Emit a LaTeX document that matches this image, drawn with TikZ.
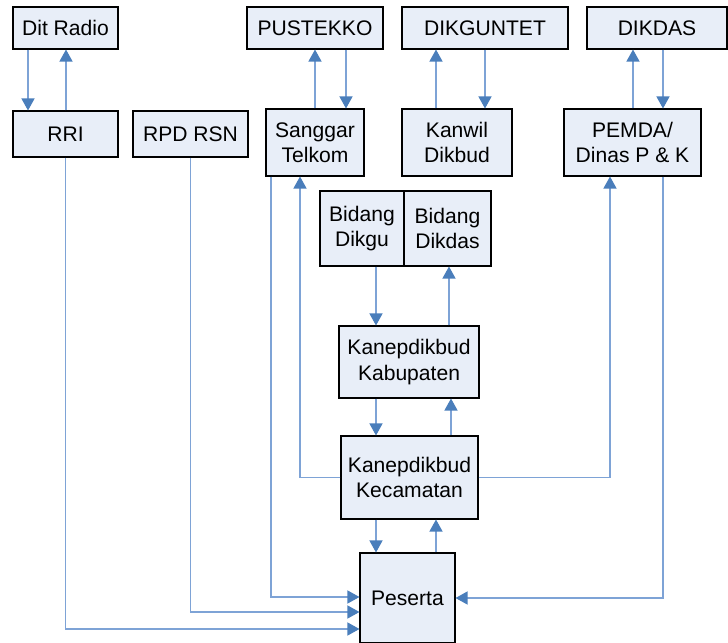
\documentclass[tikz,border=0pt]{standalone}
\usepackage{fontspec}
\setmainfont{Liberation Sans}
\usepackage{xcolor}
\usepackage{tikz}
\usetikzlibrary{positioning, arrows.meta, calc}

\definecolor{boxfill}{HTML}{E8EEF8}
\definecolor{linkblue}{HTML}{7EA3D6}
\definecolor{tipblue}{HTML}{4A7EBB}

\begin{document}
\begin{tikzpicture}[
  x=0.02cm, y=-0.02cm,
  every node/.style = {font=\fontsize{12}{14.5}\selectfont},
  box/.style   = {draw, line width=0.6pt, fill=boxfill, inner sep=2pt,
                  align=center},
  arr/.style   = {-{Triangle[width=0.26cm, length=0.24cm, color=tipblue]},
                  line width=0.7pt, linkblue}
]
\useasboundingbox (0,0) rectangle (728,643);

% top row
\node[box, minimum width=2.1cm,  minimum height=0.84cm] (dit) at (65.5, 28) {Dit Radio};
\node[box, minimum width=2.72cm, minimum height=0.84cm] (pus) at (315, 28)  {PUSTEKKO};
\node[box, minimum width=3.32cm, minimum height=0.84cm] (dkt) at (485, 28)  {DIKGUNTET};
\node[box, minimum width=2.8cm,  minimum height=0.84cm] (dks) at (657, 28)  {DIKDAS};

% second row
\node[box, minimum width=2.1cm,  minimum height=0.92cm] (rri) at (65.5, 134)  {RRI};
\node[box, minimum width=2.3cm,  minimum height=0.92cm] (rpd) at (190.5, 134) {RPD RSN};
\node[box, minimum width=1.96cm, minimum height=1.34cm] (sgr) at (315, 142.5) {Sanggar\\Telkom};
\node[box, minimum width=2.2cm,  minimum height=1.34cm] (kwl) at (457, 142.5) {Kanwil\\Dikbud};
\node[box, minimum width=2.74cm, minimum height=1.34cm] (pmd) at (632.5, 142.5) {PEMDA/\\Dinas P \& K};

% middle
\node[box, minimum width=1.68cm, minimum height=1.5cm] (bdg) at (362, 228.5)   {Bidang\\Dikgu};
\node[box, minimum width=1.74cm, minimum height=1.5cm] (bds) at (447.5, 228.5) {Bidang\\Dikdas};
\node[box, minimum width=2.8cm,  minimum height=1.44cm] (kab) at (409, 362)    {Kanepdikbud\\Kabupaten};
\node[box, minimum width=2.74cm, minimum height=1.66cm] (kec) at (409.5, 477.5) {Kanepdikbud\\Kecamatan};
\node[box, minimum width=1.9cm,  minimum height=1.8cm]  (pes) at (407.5, 598)  {Peserta};

% pairs of arrows
\draw[arr] (dit.south -| 28,0)  -- (rri.north -| 28,0);
\draw[arr] (rri.north -| 66,0)  -- (dit.south -| 66,0);
\draw[arr] (sgr.north -| 315,0) -- (pus.south -| 315,0);
\draw[arr] (pus.south -| 346,0) -- (sgr.north -| 346,0);
\draw[arr] (kwl.north -| 436,0) -- (dkt.south -| 436,0);
\draw[arr] (dkt.south -| 485,0) -- (kwl.north -| 485,0);
\draw[arr] (pmd.north -| 633,0) -- (dks.south -| 633,0);
\draw[arr] (dks.south -| 663,0) -- (pmd.north -| 663,0);
\draw[arr] (bdg.south -| 376,0) -- (kab.north -| 376,0);
\draw[arr] (kab.north -| 449,0) -- (bds.south -| 449,0);
\draw[arr] (kab.south -| 376,0) -- (kec.north -| 376,0);
\draw[arr] (kec.north -| 451,0) -- (kab.south -| 451,0);
\draw[arr] (kec.south -| 376,0) -- (pes.north -| 376,0);
\draw[arr] (pes.north -| 436,0) -- (kec.south -| 436,0);

% side links
\draw[arr] (kec.west) -| (sgr.south -| 300,0);
\draw[arr] (kec.east) -| (pmd.south -| 610,0);
\draw[arr] (pmd.south -| 663,0) |- (pes.east);
\draw[arr] (sgr.south -| 271,0) |- (pes.west |- 0,597);
\draw[arr] (rpd.south) |- (pes.west |- 0,612);
\draw[arr] (rri.south) |- (pes.west |- 0,629);

\end{tikzpicture}
\end{document}
